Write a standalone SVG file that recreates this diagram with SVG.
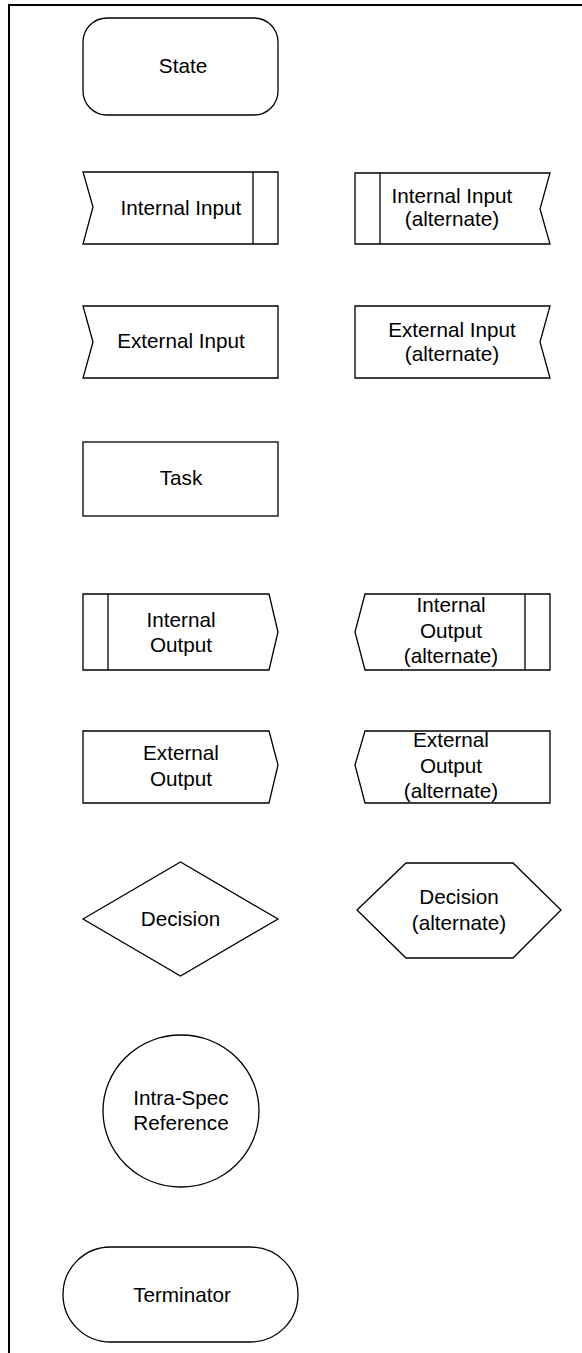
<svg xmlns="http://www.w3.org/2000/svg" width="582" height="1353" viewBox="0 0 582 1353">
<style>
.frame{fill:none;stroke:#000;stroke-width:2}
.s{fill:#fff;stroke:#000;stroke-width:1.3;stroke-linejoin:miter}
.l{fill:none;stroke:#000;stroke-width:1.3}
text{font-family:"Liberation Sans",Arial,sans-serif;font-size:20.7px;fill:#000;text-anchor:middle}
</style>
<rect x="0" y="0" width="582" height="1353" fill="#fff"/>
<rect class="frame" x="9" y="5" width="640" height="1400"/>
<g id="connectors"></g>
<g id="state">
<rect class="s" x="83" y="18" width="195" height="97" rx="24" ry="24"/>
<text x="183" y="73">State</text>
</g>
<g id="internal-input">
<polygon class="s" points="83,172 278,172 278,244 83,244 93,207"/>
<line class="l" x1="253" y1="172" x2="253" y2="244"/>
<text x="181" y="215">Internal Input</text>
</g>
<g id="internal-input-alt">
<polygon class="s" points="355,173 550,173 540,209 550,244 355,244"/>
<line class="l" x1="380" y1="173" x2="380" y2="244"/>
<text x="452" y="203">Internal Input</text>
<text x="452" y="226">(alternate)</text>
</g>
<g id="external-input">
<polygon class="s" points="83,306 278,306 278,378 83,378 93,342"/>
<text x="181" y="348">External Input</text>
</g>
<g id="external-input-alt">
<polygon class="s" points="355,306 550,306 540,342 550,378 355,378"/>
<text x="452" y="337">External Input</text>
<text x="452" y="361">(alternate)</text>
</g>
<g id="task">
<rect class="s" x="83" y="442" width="195" height="74"/>
<text x="181" y="485">Task</text>
</g>
<g id="internal-output">
<polygon class="s" points="83,594 269,594 278,632 269,670 83,670"/>
<line class="l" x1="108" y1="594" x2="108" y2="670"/>
<text x="181" y="627">Internal</text>
<text x="181" y="652">Output</text>
</g>
<g id="internal-output-alt">
<polygon class="s" points="365,594 550,594 550,670 365,670 355,632"/>
<line class="l" x1="525" y1="594" x2="525" y2="670"/>
<text x="451" y="612">Internal</text>
<text x="451" y="638">Output</text>
<text x="451" y="663">(alternate)</text>
</g>
<g id="external-output">
<polygon class="s" points="83,731 269,731 278,765 269,803 83,803"/>
<text x="181" y="760">External</text>
<text x="181" y="786">Output</text>
</g>
<g id="external-output-alt">
<polygon class="s" points="365,731 550,731 550,803 365,803 355,765"/>
<text x="451" y="747">External</text>
<text x="451" y="773">Output</text>
<text x="451" y="798">(alternate)</text>
</g>
<g id="decision">
<polygon class="s" points="83,919 180.5,862 278,919 180.5,976"/>
<text x="180.5" y="926">Decision</text>
</g>
<g id="decision-alt">
<polygon class="s" points="357,910 406,863 513,863 561,910 513,958 406,958"/>
<text x="459" y="904">Decision</text>
<text x="459" y="930">(alternate)</text>
</g>
<g id="intra-spec-reference">
<ellipse class="s" cx="181" cy="1111" rx="78" ry="76"/>
<text x="181" y="1105">Intra-Spec</text>
<text x="181" y="1130">Reference</text>
</g>
<g id="terminator">
<rect class="s" x="63" y="1247" width="235" height="95" rx="47.5" ry="47.5"/>
<text x="182" y="1302">Terminator</text>
</g>
</svg>
